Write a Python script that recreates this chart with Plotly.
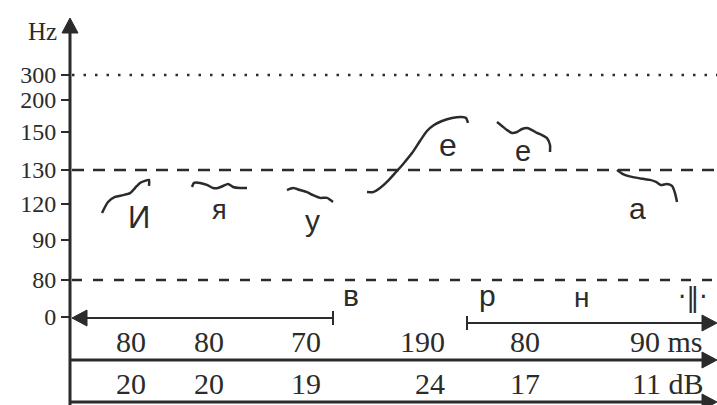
import numpy as np
import plotly.graph_objects as go

# ---------------- data ----------------
tick_hz = [0, 80, 90, 120, 130, 150, 200, 300]
tick_labels = ["0", "80", "90", "120", "130", "150", "200", "300"]

# F0 contours (schematic time units, Hz)
i_t = [102, 108, 115, 123, 130, 135, 140, 145, 149, 149]
i_hz = [112.5, 120.6, 122.1, 122.6, 123.2, 124.7, 126.2, 126.8, 127.1, 125.3]
ya_t = [192, 194, 200, 207, 213, 218, 223, 228, 233, 240, 247]
ya_hz = [125.0, 126.2, 126.2, 125.6, 124.7, 124.7, 125.3, 125.9, 125.0, 124.7, 124.7]
u_t = [287, 293, 300, 307, 313, 320, 327, 333]
u_hz = [124.1, 124.7, 124.1, 123.5, 122.6, 121.8, 121.8, 120.6]
e1_t = [367, 373, 380, 388, 396, 404, 412, 420, 427, 434, 442, 452, 462, 466, 468]
e1_hz = [123.5, 123.5, 124.7, 126.8, 129.4, 133.7, 138.9, 145.3, 151.6, 160.9, 167.2, 171.9, 173.4, 171.9, 164.1]
e2_t = [497, 502, 507, 512, 517, 522, 527, 532, 537, 542, 547, 550, 550]
e2_hz = [165.6, 159.4, 153.1, 149.5, 150.0, 154.7, 156.3, 153.1, 149.5, 148.4, 146.8, 143.2, 139.5]
a_t = [617, 623, 633, 643, 650, 656, 661, 667, 672, 675, 677]
a_hz = [130.0, 128.8, 127.9, 127.4, 127.1, 126.5, 125.6, 125.9, 125.3, 123.2, 120.6]

vowels = ["И", "я", "у", "е", "е", "а"]
consonants = ["в", "р", "н", "·‖·"]
durations_ms = [80, 80, 70, 190, 80, 90]
intensity_db = [20, 20, 19, 24, 17, 11]
ref_levels_hz = [300, 130, 80]

# ---------------- layout constants ----------------
W, H = 717, 405
TICK_POS = [317, 280, 240, 204, 170, 132, 100, 75]   # nonlinear Hz scale positions
AX_X = 70
INK = "#2b2b2b"
SERIF = "Liberation Serif"
SANS = "Liberation Sans"

def hz_pos(hz):
    return np.interp(hz, tick_hz, TICK_POS)

fig = go.Figure()

contours = [(i_t, i_hz), (ya_t, ya_hz), (u_t, u_hz), (e1_t, e1_hz), (e2_t, e2_hz), (a_t, a_hz)]
for t, hz in contours:
    fig.add_trace(go.Scatter(x=t, y=hz_pos(hz), mode="lines",
                             line=dict(color=INK, width=2.5, shape="spline", smoothing=0.6),
                             hoverinfo="skip", showlegend=False))

shapes = []

def line(x0, y0, x1, y1, w=2.5, dash=None):
    d = dict(type="line", xref="x", yref="y", x0=x0, y0=y0, x1=x1, y1=y1,
             line=dict(color=INK, width=w))
    if dash:
        d["line"]["dash"] = dash
    shapes.append(d)

def arrow(tx, ty, direction, L=15, hw=8):
    if direction == "up":
        p = f"M{tx},{ty} L{tx-hw},{ty+L} L{tx+hw},{ty+L} Z"
    elif direction == "left":
        p = f"M{tx},{ty} L{tx+L},{ty-hw} L{tx+L},{ty+hw} Z"
    else:
        p = f"M{tx},{ty} L{tx-L},{ty-hw} L{tx-L},{ty+hw} Z"
    shapes.append(dict(type="path", xref="x", yref="y", path=p,
                       fillcolor=INK, line=dict(color=INK, width=1)))

# vertical Hz axis
line(AX_X, 30, AX_X, H, w=3)
arrow(AX_X, 18, "up")

# reference levels
dashes = {300: "2.5px,9px", 130: "12px,9px", 80: "10px,11px"}
for lv in ref_levels_hz:
    line(AX_X + 2, hz_pos(lv), W, hz_pos(lv), w=2.5, dash=dashes[lv])

# time axis (two parts)
y0 = hz_pos(0) + 1
line(AX_X + 14, y0, 333, y0, w=2)
arrow(AX_X + 2, y0, "left")
line(333, y0 - 7, 333, y0 + 7, w=2)
y1 = y0 + 5
line(467, y1 - 7, 467, y1 + 7, w=2)
line(467, y1, W - 12, y1, w=2)
arrow(W, y1, "right")

# table rows
for yr in (360, 402):
    line(AX_X, yr, W - 12, yr, w=3)
    arrow(W, yr, "right")

fig.update_layout(shapes=shapes)

ann = []
# vowel labels
V_POS = [(139, 217), (219, 210), (312, 220), (448, 145), (523, 151), (637, 208)]
V_SIZE = [31, 27, 30, 32, 29, 30]
for txt, (x, y), s in zip(vowels, V_POS, V_SIZE):
    ann.append(dict(x=x, y=y, text=txt, showarrow=False, xanchor="center", yanchor="middle",
                    font=dict(family=SANS, size=s, color=INK)))
C_POS = [(351, 295), (487, 295), (581, 297), (693, 297)]
C_SIZE = [30, 30, 28, 26]
for txt, (x, y), s in zip(consonants, C_POS, C_SIZE):
    ann.append(dict(x=x, y=y, text=txt, showarrow=False, xanchor="center", yanchor="middle",
                    font=dict(family=SANS if txt != "·‖·" else "DejaVu Sans", size=s, color=INK)))

# duration / intensity rows
COL_RIGHT = [148, 226, 323, 447, 542, 705]
for k, (d, db) in enumerate(zip(durations_ms, intensity_db)):
    last = k == len(durations_ms) - 1
    ann.append(dict(x=COL_RIGHT[k], y=341, text=f"{d} ms" if last else str(d), showarrow=False,
                    xanchor="right", yanchor="middle", font=dict(family=SERIF, size=30, color=INK)))
    ann.append(dict(x=COL_RIGHT[k], y=383, text=f"{db} dB" if last else str(db), showarrow=False,
                    xanchor="right", yanchor="middle", font=dict(family=SERIF, size=30, color=INK)))

ann.append(dict(x=59, y=31, text="Hz", showarrow=False, xanchor="right", yanchor="middle",
                font=dict(family=SERIF, size=25, color=INK)))

fig.update_layout(
    annotations=ann,
    width=W, height=H,
    margin=dict(l=0, r=0, t=0, b=0),
    paper_bgcolor="white", plot_bgcolor="white",
    xaxis=dict(range=[0, W], visible=False, domain=[0, 1], fixedrange=True),
    yaxis=dict(range=[H, 0], anchor="free", position=AX_X / W, fixedrange=True,
               tickvals=list(TICK_POS), ticktext=tick_labels,
               ticks="outside", ticklen=9, tickwidth=2, tickcolor=INK,
               tickfont=dict(family=SERIF, size=24, color=INK),
               showgrid=False, zeroline=False, showline=False),
    showlegend=False,
)

fig.write_html("out.html", config={"displayModeBar": False},
               post_script="document.body.style.margin='0';document.body.style.overflow='hidden';")
